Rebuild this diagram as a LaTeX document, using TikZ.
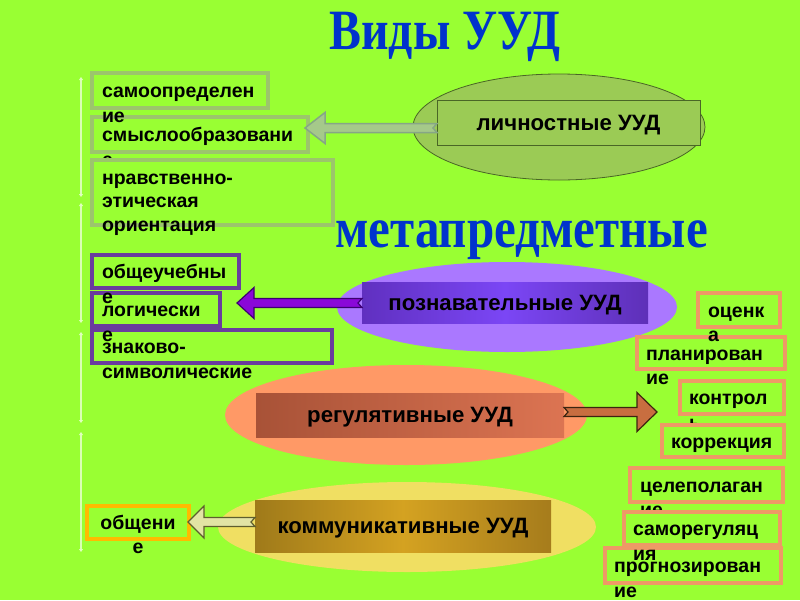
\documentclass[tikz,border=0pt]{standalone}
\usepackage{fontspec}
\setmainfont{Liberation Sans}
\newfontfamily\ttlfont{Liberation Serif}
\usetikzlibrary{calc,arrows.meta,shapes.geometric,fit}
\definecolor{bg}{HTML}{99FF33}
\definecolor{ttlblue}{HTML}{0033CC}
\definecolor{persell}{HTML}{9BCB55}
\definecolor{persline}{HTML}{4A6626}
\definecolor{persbox}{HTML}{9CC56C}
\definecolor{cogell}{HTML}{AA78FF}
\definecolor{cogline}{HTML}{6A3C9E}
\definecolor{regell}{HTML}{FF9966}
\definecolor{regline}{HTML}{EE9966}
\definecolor{comell}{HTML}{F0DF62}
\definecolor{comline}{HTML}{FFBB00}
\definecolor{parrowfill}{HTML}{A5C98A}
\definecolor{parrowline}{HTML}{86A686}
\definecolor{carrowfill}{HTML}{8A08D8}
\definecolor{carrowline}{HTML}{3C0070}
\definecolor{rarrowfill}{HTML}{C86E40}
\definecolor{rarrowline}{HTML}{3C2410}
\definecolor{karrowfill}{HTML}{E2E4A4}
\definecolor{karrowline}{HTML}{5E5E2E}
\definecolor{cboxa}{HTML}{6030C0}
\definecolor{cboxb}{HTML}{7B46F5}
\definecolor{cboxc}{HTML}{5E30B8}
\definecolor{rboxa}{HTML}{A85237}
\definecolor{rboxc}{HTML}{DC7452}
\definecolor{kboxa}{HTML}{9F7A1A}
\definecolor{kboxb}{HTML}{D4A221}
\definecolor{kboxc}{HTML}{A67C1C}
\definecolor{vline}{HTML}{E6FFCC}
\newcommand{\blkarrow}[6]{%
  \draw[#1] let \p1=(#2), \p2=(#3), \n1={sign(\x1-\x2)*#6}, \n2={sign(\x1-\x2)*4} in
    (\x1,\y2+#4) -- (\x2+\n1,\y2+#4) -- (\x2+\n1,\y2+#5) -- (\x2,\y2) --
    (\x2+\n1,\y2-#5) -- (\x2+\n1,\y2-#4) -- (\x1,\y2-#4) -- (\x1-\n2,\y2) -- cycle;}
\tikzset{
  ell/.style={ellipse, inner sep=0pt, outer sep=0pt},
  bigbox/.style={rectangle, inner sep=0pt, outer sep=0pt},
  biglbl/.style={inner sep=0pt, outer sep=0pt, anchor=center,
    font=\fontsize{22.2}{26}\selectfont\bfseries},
  smallbox/.style={rectangle, inner sep=0pt, outer sep=0pt},
  pbox/.style={smallbox, draw=persbox, line width=4.5pt, fill=bg},
  cbox/.style={smallbox, draw=cogline, line width=3.5pt},
  rbox/.style={smallbox, draw=regline, line width=4pt, fill=bg},
  kbox/.style={smallbox, draw=comline, line width=3.5pt},
  txt/.style={inner sep=0pt, outer sep=0pt, anchor=north west, align=left,
    font=\fontsize{19.5}{24.5}\selectfont\bfseries},
  ttl/.style={anchor=base, text=ttlblue, inner sep=0pt,
    font=\ttlfont\bfseries\fontsize{57}{60}\selectfont},
}
\begin{document}
\begin{tikzpicture}[x=1pt,y=-1pt]
\useasboundingbox (0,0) rectangle (800,600);
\fill[bg] (0,0) rectangle (800,600);

% vertical line
\foreach \a/\b in {77/197,203/323,332/423,432/552}{
  \draw[vline, opacity=0.85, line width=1.2pt, {Triangle[width=4pt,length=3pt]}-{Triangle[width=4pt,length=3pt]}] (81,\a) -- (81,\b);
}

% titles
\node[ttl] (title) at (445,49) {\scalebox{0.84}[1]{Виды УУД}};

% personal
\node[ell, fill=persell, draw=persline, line width=0.8pt, minimum width=292pt, minimum height=106pt] (pell) at (559,127) {};
\node[bigbox, fill=persell, draw=persline, line width=1pt, fit={(437,100) (700,145)}] (pbox) {};
\node[biglbl] (plbl) at ($(pbox.center)+(0,3)$) {личностные УУД};

\node[pbox, fit={(92,73) (268,108)}] (s1) {};
\node[pbox, fit={(92,117) (308,152)}] (s2) {};
\node[txt] (s1t) at ($(s1.west)+(10,-10)$) {\strut самоопределен\\ие};
\node[txt] (s2t) at ($(s2.west)+(10,-10)$) {\strut смыслообразовани\\е};
\node[pbox, fit={(92,160) (333,225)}] (s3) {};
\node[txt, font=\fontsize{19.5}{23.5}\selectfont\bfseries] (s3t) at ($(s3.north west)+(10,8)$) {\strut нравственно-\\этическая\\ориентация};

\coordinate (ptip) at (305,128);
\blkarrow{fill=parrowfill, draw=parrowline, line width=1.5pt}{pbox.west}{ptip}{4.5}{15.5}{20}

\node[ttl] (meta) at (521.5,247) {\scalebox{0.86}[1]{метапредметные}};

% cognitive
\node[ell, fill=cogell, minimum width=340pt, minimum height=90pt] (cell) at (507,307) {};
\node[bigbox, left color=cboxa, right color=cboxc, middle color=cboxb, fit={(362,282) (648,323)}] (cboxn) {};
\node[biglbl] (clbl) at ($(cboxn.center)+(0,2.5)$) {познавательные УУД};

\node[cbox, fit={(92,255) (239,288)}] (c1) {};
\node[cbox, fit={(92,293) (220,326)}] (c2) {};
\node[cbox, fit={(92,330) (332,363)}] (c3) {};
\node[txt] (c1t) at ($(c1.west)+(10,-10)$) {\strut общеучебны\\е};
\node[txt] (c2t) at ($(c2.west)+(10,-10)$) {\strut логически\\е};
\node[txt] (c3t) at ($(c3.west)+(10,-10)$) {\strut знаково-\\символические};

\coordinate (ctip) at (237,303);
\blkarrow{fill=carrowfill, draw=carrowline, line width=1.2pt}{cboxn.west}{ctip}{4.5}{15.5}{17}

% regulatory
\node[ell, fill=regell, minimum width=362pt, minimum height=100pt] (rell) at (406,415) {};
\node[bigbox, left color=rboxa, right color=rboxc, fit={(256,393) (564,437)}] (rboxn) {};
\node[biglbl] (rlbl) at ($(rboxn.center)+(0,2)$) {регулятивные УУД};

\node[rbox, fit={(698,293) (780,327)}] (r1) {};
\node[rbox, fit={(637,337) (785,369)}] (r2) {};
\node[txt] (r1t) at ($(r1.west)+(10,-10)$) {\strut оценк\\а};
\node[txt] (r2t) at ($(r2.west)+(9,-10)$) {\strut планирован\\ие};
\node[rbox, fit={(680,381) (784,414)}] (r3) {};
\node[txt] (r3t) at ($(r3.west)+(9,-10)$) {\strut контрол\\ь};
\node[rbox, fit={(662,425) (784,457)}] (r4) {};
\node[txt] (r4t) at ($(r4.west)+(9,-10)$) {\strut коррекция};
\node[rbox, fit={(630,468) (783,502)}] (r5) {};
\node[txt] (r5t) at ($(r5.west)+(10,-10)$) {\strut целеполаган\\ие};
\node[rbox, fit={(624,512) (780,545)}] (r6) {};
\node[rbox, fit={(605,548) (781,583)}] (r7) {};
\node[txt] (r6t) at ($(r6.west)+(9,-10)$) {\strut саморегуляц\\ия};
\node[txt] (r7t) at ($(r7.west)+(9,-10)$) {\strut прогнозирован\\ие};

\coordinate (rtip) at (657,412);
\blkarrow{fill=rarrowfill, draw=rarrowline, line width=1.2pt}{rboxn.east}{rtip}{4.5}{19.5}{20}

% communicative
\node[ell, fill=comell, minimum width=378pt, minimum height=90pt] (kell) at (407,527) {};
\node[bigbox, left color=kboxa, right color=kboxc, middle color=kboxb, fit={(255,500) (551,552)}] (kboxn) {};
\node[biglbl] (klbl) at ($(kboxn.center)+(0,2)$) {коммуникативные УУД};

\node[kbox, fit={(87,506) (189,539)}] (k1) {};
\node[txt, anchor=north, align=center] (k1t) at ($(k1.center)+(0,-10.5)$) {\strut общени\\е};

\coordinate (ktip) at (188,522);
\blkarrow{fill=karrowfill, draw=karrowline, line width=1.2pt}{kboxn.west}{ktip}{4.5}{16}{16}
\end{tikzpicture}
\end{document}
